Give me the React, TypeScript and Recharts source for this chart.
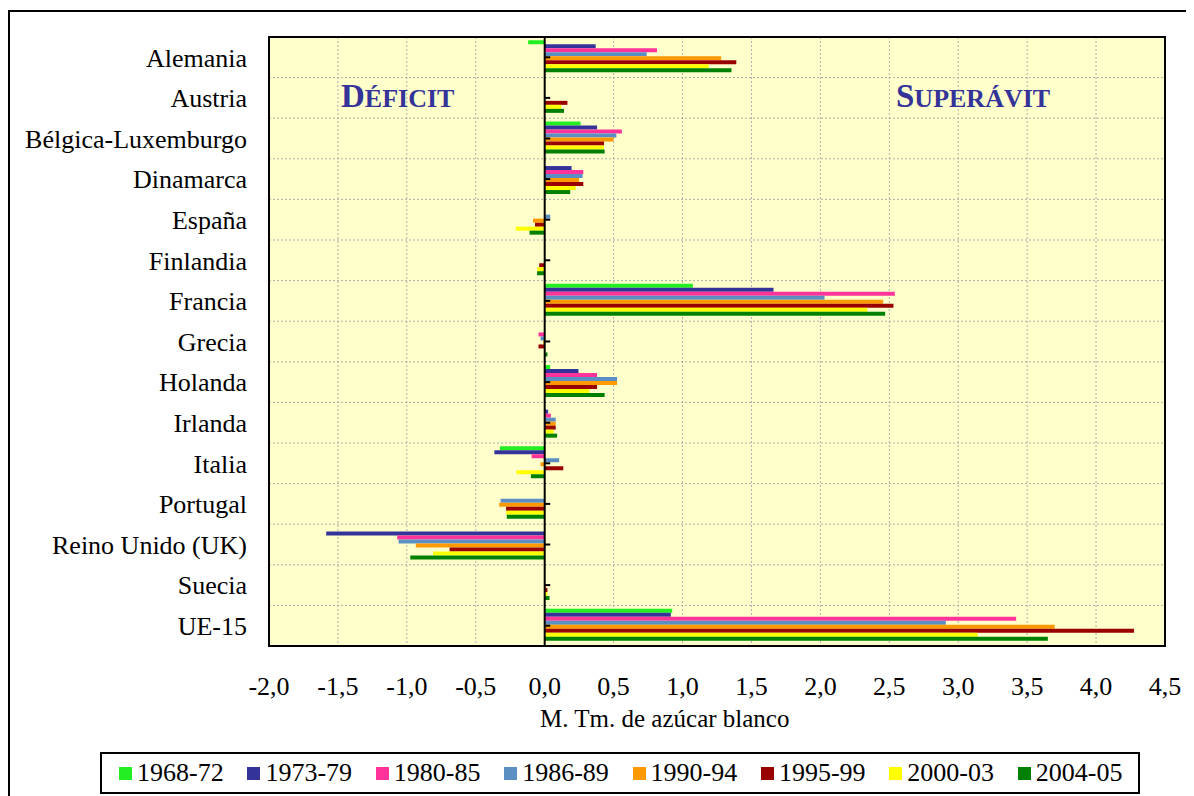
import React from 'react';
import {
    Bar,
    BarChart,
    CartesianGrid,
    ReferenceArea,
    ReferenceLine,
    XAxis,
    YAxis
} from 'recharts';

const categories = [
    'Alemania',
    'Austria',
    'Bélgica-Luxemburgo',
    'Dinamarca',
    'España',
    'Finlandia',
    'Francia',
    'Grecia',
    'Holanda',
    'Irlanda',
    'Italia',
    'Portugal',
    'Reino Unido (UK)',
    'Suecia',
    'UE-15'
];

const periods = ['1968-72', '1973-79', '1980-85', '1986-89', '1990-94', '1995-99', '2000-03', '2004-05'];

const v1968 = [-0.12, 0, 0.26, 0, 0, 0, 1.075, 0, 0.04, 0, -0.325, 0, 0, 0, 0.925];
const v1973 = [0.37, 0, 0.38, 0.195, 0, 0, 1.66, 0, 0.245, 0.025, -0.365, 0, -1.585, 0, 0.915];
const v1980 = [0.815, 0, 0.56, 0.28, 0, 0, 2.54, -0.045, 0.38, 0.045, -0.095, 0, -1.07, 0, 3.42];
const v1986 = [0.74, 0, 0.52, 0.275, 0.04, 0, 2.03, -0.03, 0.525, 0.08, 0.105, -0.32, -1.06, 0, 2.91];
const v1990 = [1.28, 0, 0.5, 0.25, -0.085, 0, 2.455, -0.01, 0.525, 0.08, -0.03, -0.33, -0.935, 0.01, 3.7];
const v1995 = [1.39, 0.165, 0.43, 0.28, -0.07, -0.04, 2.53, -0.045, 0.38, 0.08, 0.135, -0.28, -0.69, 0.02, 4.275];
const v2000 = [1.19, 0.12, 0.43, 0.225, -0.21, -0.055, 2.34, 0, 0.325, 0.065, -0.205, -0.28, -0.81, 0.02, 3.14];
const v2004 = [1.355, 0.14, 0.435, 0.185, -0.11, -0.055, 2.47, 0.02, 0.435, 0.09, -0.1, -0.275, -0.975, 0.035, 3.65];

const seriesValues = [v1968, v1973, v1980, v1986, v1990, v1995, v2000, v2004];

const xTicks = [-2, -1.5, -1, -0.5, 0, 0.5, 1, 1.5, 2, 2.5, 3, 3.5, 4, 4.5];

const periodColors = ['#22ee22', '#333399', '#ff3399', '#5b8fc4', '#ff9900', '#990000', '#ffff00', '#008000'];

const data = categories.map((name, i) => {
    const row: Record<string, string | number> = { name };
    periods.forEach((p, k) => {
        row[p] = seriesValues[k][i];
    });
    return row;
});

const serif = '"Liberation Serif", "Times New Roman", serif';
const navy = '#333399';

const App: React.FC = () => {
    return (
        <div style={{ position: 'relative', width: 1186, height: 790, fontFamily: serif }}>
            {/* outer frame */}
            <div
                style={{
                    position: 'absolute',
                    left: 0,
                    top: 2,
                    width: 1184,
                    height: 800,
                    border: '2px solid #000',
                    boxSizing: 'border-box'
                }}
            />

            <div style={{ position: 'absolute', left: 0, top: 0 }}>
                <BarChart
                    width={1184}
                    height={700}
                    data={data}
                    layout="vertical"
                    barCategoryGap="8%"
                    barGap={0}
                    margin={{ top: 29, right: 27, left: 0, bottom: 22 }}
                    style={{ fontFamily: serif }}
                >
                    <CartesianGrid
                        fill="#ffffcc"
                        stroke="#adadad"
                        strokeDasharray="2 2"
                        horizontalCoordinatesGenerator={({ offset }: any) =>
                            categories.map((_, i) => offset.top + (i * offset.height) / categories.length)
                        }
                    />
                    <XAxis
                        type="number"
                        domain={[-2, 4.5]}
                        ticks={xTicks}
                        interval={0}
                        height={40}
                        axisLine={false}
                        tickLine={false}
                        tickMargin={25}
                        tick={{ fill: '#000', fontSize: 26, fontFamily: serif }}
                        tickFormatter={(v: number) => v.toFixed(1).replace('.', ',')}
                    />
                    <YAxis
                        type="category"
                        dataKey="name"
                        width={261}
                        axisLine={false}
                        tickLine={false}
                        tickMargin={16}
                        interval={0}
                        tick={{ fill: '#000', fontSize: 26, fontFamily: serif }}
                    />
                    {periods.map((p, k) => (
                        <Bar key={p} dataKey={p} fill={periodColors[k]} isAnimationActive={false} />
                    ))}
                    <ReferenceLine x={0} stroke="#000" strokeWidth={2} />
                    {categories.map((c) => (
                        <ReferenceLine
                            key={c}
                            segment={[{ x: 0, y: c }, { x: 0.04, y: c }]}
                            stroke="#000"
                            strokeWidth={2}
                        />
                    ))}
                    <ReferenceArea x1={-2} x2={4.5} fill="none" stroke="#000" strokeWidth={2} />
                </BarChart>
            </div>

            {/* DÉFICIT / SUPERÁVIT labels */}
            <svg
                width={1184}
                height={700}
                style={{ position: 'absolute', left: 0, top: 0, pointerEvents: 'none' }}
            >
                <text x={333} y={99} fill={navy} fontWeight="bold" fontFamily={serif}>
                    <tspan fontSize={33}>D</tspan>
                    <tspan fontSize={26}>ÉFICIT</tspan>
                </text>
                <text x={888} y={99} fill={navy} fontWeight="bold" fontFamily={serif}>
                    <tspan fontSize={33}>S</tspan>
                    <tspan fontSize={26}>UPERÁVIT</tspan>
                </text>
            </svg>

            {/* axis title */}
            <div
                style={{
                    position: 'absolute',
                    left: 532,
                    top: 697,
                    fontSize: 25,
                    lineHeight: '28px',
                    whiteSpace: 'nowrap'
                }}
            >
                M. Tm. de azúcar blanco
            </div>

            {/* legend */}
            <div
                style={{
                    position: 'absolute',
                    left: 92,
                    top: 744,
                    width: 1040,
                    height: 42,
                    border: '2px solid #000',
                    boxSizing: 'border-box',
                    display: 'flex',
                    alignItems: 'center',
                    paddingLeft: 17,
                    background: '#fff'
                }}
            >
                {periods.map((p, k) => (
                    <div
                        key={p}
                        style={{ width: 128.4, display: 'flex', alignItems: 'center', flexShrink: 0 }}
                    >
                        <span
                            style={{
                                width: 13,
                                height: 13,
                                background: periodColors[k],
                                marginRight: 5,
                                display: 'inline-block'
                            }}
                        />
                        <span style={{ fontSize: 26, lineHeight: '30px', whiteSpace: 'nowrap' }}>{p}</span>
                    </div>
                ))}
            </div>
        </div>
    );
};

export default App;
